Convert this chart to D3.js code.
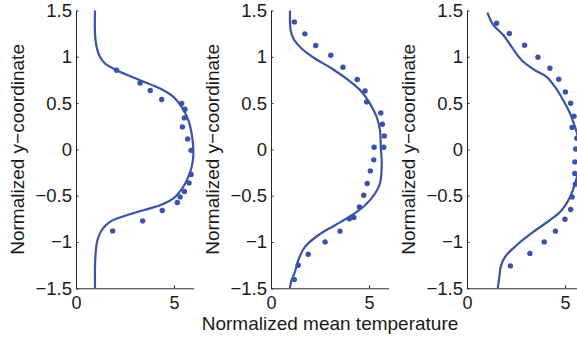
<!DOCTYPE html>
<html>
<head>
<meta charset="utf-8">
<script src="https://cdn.jsdelivr.net/npm/d3@7/dist/d3.min.js"></script>
<style>
  html, body { margin: 0; padding: 0; background: #fff; }
  svg { display: block; }
  text { font-family: "Liberation Sans", Arial, Helvetica, sans-serif; fill: #1a1a1a; }
</style>
</head>
<body>
<svg id="chart" width="577" height="337"></svg>
<script>
// Axis ticks shared by all three panels
const yTicks = [-1.5, -1, -0.5, 0, 0.5, 1, 1.5];
const xTicks = [0, 5];
const yLabel = "Normalized y\u2212coordinate";
const xLabel = "Normalized mean temperature";

// Panel 1: simulated profile (line) and measured points
const p1LineY = [1.5, 1.25, 1.107, 1.0, 0.928, 0.855, 0.747, 0.657, 0.567, 0.459, 0.315, 0.171, 0.027, -0.081, -0.189, -0.297, -0.405, -0.53, -0.603, -0.657, -0.711, -0.783, -0.873, -0.981, -1.125, -1.269, -1.5];
const p1LineT = [0.97, 0.97, 1.05, 1.22, 1.48, 2.07, 3.27, 4.29, 4.97, 5.39, 5.73, 5.9, 5.98, 5.98, 5.9, 5.73, 5.47, 4.97, 4.29, 3.43, 2.59, 1.73, 1.31, 1.09, 1.0, 0.97, 0.97];
const p1DotY = [0.855, 0.718, 0.636, 0.539, 0.496, 0.434, 0.340, 0.243, 0.113, -0.01, -0.271, -0.362, -0.455, -0.513, -0.573, -0.660, -0.772, -0.880];
const p1DotT = [2.07, 3.27, 3.79, 4.37, 5.39, 5.56, 5.53, 5.43, 5.70, 5.87, 5.87, 5.77, 5.53, 5.31, 5.17, 4.40, 3.40, 1.87];

// Panel 2
const p2LineY = [1.5, 1.29, 1.197, 1.09, 0.982, 0.874, 0.747, 0.621, 0.495, 0.351, 0.207, 0.027, -0.153, -0.368, -0.476, -0.603, -0.711, -0.819, -0.927, -1.053, -1.197, -1.323, -1.431, -1.5];
const p2LineT = [0.97, 1.0, 1.14, 1.56, 2.24, 3.1, 3.95, 4.63, 5.05, 5.39, 5.56, 5.6, 5.65, 5.56, 5.31, 4.8, 4.12, 3.27, 2.41, 1.73, 1.39, 1.22, 1.02, 0.97];
const p2DotY = [1.377, 1.248, 1.122, 1.017, 0.888, 0.755, 0.632, 0.513, 0.394, 0.272, 0.146, 0.024, 0.024, -0.113, -0.232, -0.368, -0.495, -0.621, -0.735, -0.75, -0.883, -0.999, -1.132, -1.251, -1.406];
const p2DotT = [1.19, 1.73, 2.28, 3.05, 3.67, 4.40, 4.80, 4.88, 5.60, 5.68, 5.78, 5.75, 5.26, 5.24, 5.07, 4.91, 4.73, 4.51, 4.23, 4.0, 3.52, 2.76, 1.90, 1.39, 1.19];

// Panel 3
const p3LineY = [1.477, 1.344, 1.236, 1.107, 0.963, 0.855, 0.783, 0.675, 0.531, 0.387, 0.243, 0.1, 0, -0.1, -0.2, -0.297, -0.368, -0.513, -0.657, -0.765, -0.891, -1.035, -1.161, -1.269, -1.377, -1.5];
const p3LineT = [1.04, 1.34, 1.85, 2.28, 2.79, 3.47, 4.06, 4.49, 4.91, 5.26, 5.51, 5.7, 5.78, 5.8, 5.74, 5.61, 5.51, 5.26, 4.83, 4.23, 3.38, 2.53, 1.94, 1.72, 1.65, 1.57];
const p3DotY = [1.363, 1.251, 1.125, 0.996, 0.877, 0.758, 0.621, 0.499, 0.359, 0.236, 0.121, 0.005, -0.135, -0.260, -0.376, -0.513, -0.649, -0.754, -0.883, -0.999, -1.124, -1.258];
const p3DotT = [1.51, 2.16, 2.94, 3.62, 4.23, 4.68, 5.02, 5.29, 5.46, 5.36, 5.6, 5.55, 5.5, 5.5, 5.53, 5.36, 5.29, 5.0, 4.51, 3.94, 3.21, 2.21];

const panels = [
  { left: 76,  lineT: p1LineT, lineY: p1LineY, dotT: p1DotT, dotY: p1DotY },
  { left: 271, lineT: p2LineT, lineY: p2LineY, dotT: p2DotT, dotY: p2DotY },
  { left: 467, lineT: p3LineT, lineY: p3LineY, dotT: p3DotT, dotY: p3DotY }
];

const blue = "#3a53a6";
const plotW = 117.6, plotTop = 10.5, plotBottom = 288.3;
const fmt = d => d3.format("")(d).replace("-", "\u2212");

const svg = d3.select("#chart");
svg.append("rect").attr("width", 577).attr("height", 337).attr("fill", "#fff");

panels.forEach(p => {
  const x = d3.scaleLinear().domain([0, 6]).range([p.left, p.left + plotW]);
  const y = d3.scaleLinear().domain([-1.5, 1.5]).range([plotBottom, plotTop]);
  const g = svg.append("g");

  const yAxis = g.append("g")
    .attr("transform", `translate(${p.left},0)`)
    .call(d3.axisLeft(y).tickValues(yTicks).tickFormat(fmt)
      .tickSizeInner(-2.5).tickSizeOuter(0).tickPadding(4));
  const xAxis = g.append("g")
    .attr("transform", `translate(0,${plotBottom})`)
    .call(d3.axisBottom(x).tickValues(xTicks).tickFormat(fmt)
      .tickSizeInner(-3).tickSizeOuter(0).tickPadding(7.5));
  [yAxis, xAxis].forEach(a => {
    a.selectAll("path, line").attr("stroke", "#262626").attr("stroke-width", 1);
    a.selectAll("text").attr("fill", "#1a1a1a")
      .style("font-family", '"Liberation Sans", Arial, sans-serif');
  });
  yAxis.selectAll("text").attr("font-size", 18.5);
  xAxis.selectAll("text").attr("font-size", 18);

  g.append("text")
    .attr("transform", `translate(${p.left - 52},${(plotTop + plotBottom) / 2}) rotate(-90)`)
    .attr("text-anchor", "middle")
    .attr("font-size", 19)
    .text(yLabel);

  const line = d3.line()
    .x((d, i) => x(p.lineT[i]))
    .y(d => y(d))
    .curve(d3.curveCatmullRom.alpha(0.5));
  g.append("path")
    .attr("d", line(p.lineY))
    .attr("fill", "none")
    .attr("stroke", blue)
    .attr("stroke-width", 2.2)
    .attr("stroke-linejoin", "round");

  g.selectAll("circle.pt")
    .data(p.dotY)
    .join("circle")
    .attr("class", "pt")
    .attr("cx", (d, i) => x(p.dotT[i]))
    .attr("cy", d => y(d))
    .attr("r", 2.7)
    .attr("fill", blue);
});

svg.append("text")
  .attr("x", 330)
  .attr("y", 329.8)
  .attr("text-anchor", "middle")
  .attr("font-size", 19)
  .text(xLabel);
</script>
</body>
</html>
